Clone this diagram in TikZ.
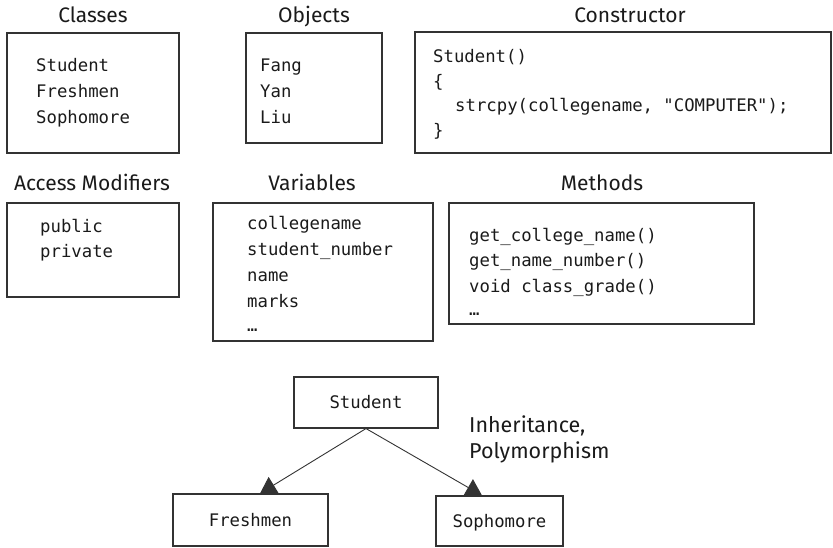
\documentclass[tikz,border=0pt]{standalone}
\usepackage{fontspec}
\setmainfont{Fira Sans}
\newfontfamily\monof{DejaVu Sans Mono}
\usetikzlibrary{arrows.meta}
\definecolor{linec}{HTML}{333333}
\definecolor{textc}{HTML}{1A1A1A}
\tikzset{
  box/.style={draw=linec, line width=1.1pt},
  ttl/.style={anchor=base, font=\fontsize{21}{24}\selectfont, text=textc, inner sep=0pt},
  code/.style={anchor=base west, font=\monof\fontsize{17.3}{20}\selectfont, text=textc, inner sep=0pt},
  codec/.style={anchor=base, font=\monof\fontsize{17.3}{20}\selectfont, text=textc, inner sep=0pt},
  lbl/.style={anchor=base west, font=\fontsize{21.5}{24}\selectfont, text=textc, inner sep=0pt},
  conn/.style={draw=linec, line width=0.9pt, -{Triangle[length=16pt,width=19pt]}},
}
\begin{document}
\begin{tikzpicture}[x=1pt,y=-1pt]
\useasboundingbox (0,0) rectangle (833,548);
% titles
\node[ttl] (tclasses) at (93,23) {Classes};
\node[ttl] (tobjects) at (314,23) {Objects};
\node[ttl] (tcons) at (630,23) {Constructor};
\node[ttl] (taccess) at (92,191) {Access Modifiers};
\node[ttl] (tvars) at (312,191) {Variables};
\node[ttl] (tmeth) at (602,191) {Methods};
% boxes
\draw[box] (7,33) rectangle (179,153);
\draw[box] (246,33) rectangle (382,143);
\draw[box] (415,32) rectangle (831,153);
\draw[box] (7,203) rectangle (179,297);
\draw[box] (213,203) rectangle (433,341);
\draw[box] (449,203) rectangle (754,324);
% classes
\node[code] (c1) at (36,72) {Student};
\node[code] (c2) at (36,98) {Freshmen};
\node[code] (c3) at (36,124) {Sophomore};
% objects
\node[code] (o1) at (260,72) {Fang};
\node[code] (o2) at (260,98) {Yan};
\node[code] (o3) at (260,124) {Liu};
% constructor
\node[code] (k1) at (433,63) {Student()};
\node[code] (k2) at (433,88) {\{};
\node[code] (k3) at (455,112) {strcpy(collegename, "COMPUTER");};
\node[code] (k4) at (433,137) {\}};
% access
\node[code] (a1) at (40,233) {public};
\node[code] (a2) at (40,258) {private};
% variables
\node[code] (v1) at (247,230) {collegename};
\node[code] (v2) at (247,256) {student\_number};
\node[code] (v3) at (247,281) {name};
\node[code] (v4) at (247,307) {marks};
\node[code] (v5) at (247,331) {…};
% methods
\node[code] (m1) at (469,242) {get\_college\_name()};
\node[code] (m2) at (469,267) {get\_name\_number()};
\node[code] (m3) at (469,293) {void class\_grade()};
\node[code] (m4) at (469,315) {…};
% hierarchy
\node[box, minimum width=144pt, minimum height=51pt, inner sep=0pt] (student) at (366,402.5) {};
\node[codec] at (student.center) [yshift=-6pt] {Student};
\node[box, minimum width=155pt, minimum height=52pt, inner sep=0pt] (fresh) at (250.5,520) {};
\node[codec] at (fresh.center) [yshift=-6pt] {Freshmen};
\node[box, minimum width=127pt, minimum height=50pt, inner sep=0pt] (soph) at (499.5,521) {};
\node[codec] at (soph.center) [yshift=-6pt] {Sophomore};
\draw[conn] (student.south) -- (fresh.north -| 260,0);
\draw[conn] (student.south) -- (soph.north -| 482,0);
\node[lbl] (inh1) at (469,432) {Inheritance,};
\node[lbl] (inh2) at (469,458) {Polymorphism};
\end{tikzpicture}
\end{document}
